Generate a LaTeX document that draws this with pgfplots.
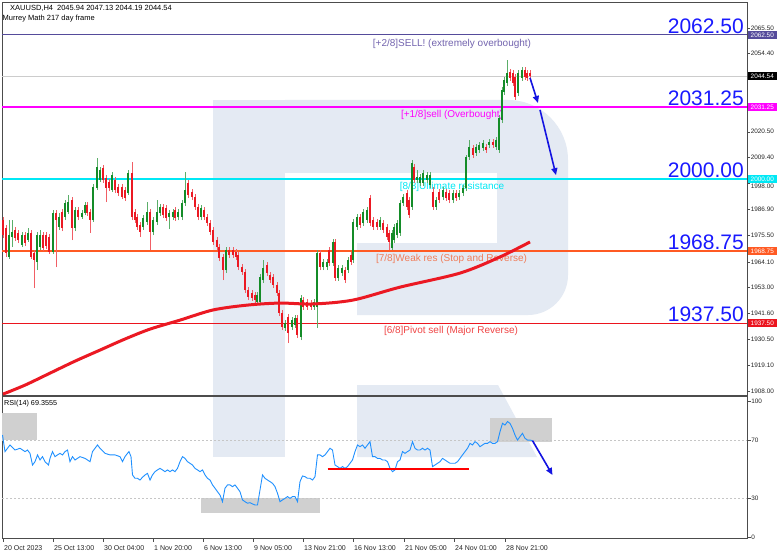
\documentclass[border=0pt]{standalone}
\usepackage{pgfplots}
\pgfplotsset{compat=1.18}
\usepackage{pgfplotstable}
\usepackage{fontspec}
\setmainfont{Liberation Sans}
\usetikzlibrary{arrows.meta}
\newcommand{\fs}[1]{\fontsize{#1}{#1}\selectfont}
\definecolor{cup}{RGB}{20,140,40}
\definecolor{cdn}{RGB}{235,25,35}
\definecolor{wm}{RGB}{228,234,243}
\definecolor{lvlA}{RGB}{85,75,155}
\definecolor{lvlAt}{RGB}{115,100,175}
\definecolor{lvlB}{RGB}{255,0,255}
\definecolor{lvlC}{RGB}{0,232,245}
\definecolor{lvlD}{RGB}{255,90,35}
\definecolor{lvlDt}{RGB}{240,125,90}
\definecolor{lvlE}{RGB}{235,20,30}
\definecolor{lvlEt}{RGB}{240,70,70}
\definecolor{arrowblue}{RGB}{20,20,225}
\definecolor{bignum}{RGB}{25,25,255}
\definecolor{rsiblue}{RGB}{30,144,255}
\definecolor{boxgray}{RGB}{208,208,208}

\pgfplotstableread{
x o h l c
9 1966.2 1982.2 1965.3 1975.7
12 1974.8 1982.2 1970.5 1977.0
22 1971.4 1977.0 1970.5 1975.7
28 1973.5 1978.8 1972.7 1976.6
37 1964.0 1977.0 1960.5 1975.7
40 1970.5 1977.9 1969.2 1975.7
53 1968.3 1986.6 1967.5 1985.3
59 1979.2 1985.3 1977.9 1983.5
65 1983.5 1990.9 1982.2 1989.6
68 1985.7 1993.1 1984.8 1990.0
75 1978.8 1987.9 1977.4 1986.6
82 1983.5 1986.6 1982.7 1985.3
85 1985.3 1990.0 1984.4 1988.7
93 1982.2 1997.8 1981.4 1996.5
97 1996.1 2009.1 1995.2 2005.2
100 1999.6 2005.2 1998.7 2003.9
112 1995.2 2003.1 1994.4 2001.8
128 1993.9 2003.9 1993.1 2002.6
143 1979.2 1984.4 1977.9 1983.1
147 1981.4 1990.0 1980.1 1985.7
153 1977.0 1983.5 1975.7 1982.2
157 1981.4 1990.9 1980.1 1985.7
160 1985.3 1989.2 1984.0 1987.9
169 1983.5 1986.6 1978.3 1985.3
173 1983.5 1987.0 1982.2 1985.7
178 1983.5 1987.0 1982.2 1985.7
182 1983.5 1990.9 1982.2 1989.6
185 1989.6 2003.1 1988.3 1995.2
201 1983.5 1988.7 1982.2 1987.4
226 1960.5 1970.5 1959.2 1969.2
257 1946.6 1951.0 1945.3 1949.7
260 1946.6 1958.8 1945.3 1957.5
263 1956.2 1964.9 1954.9 1961.4
285 1935.4 1938.8 1934.1 1937.5
292 1935.8 1940.1 1934.5 1938.8
295 1936.7 1941.0 1935.4 1939.7
301 1931.4 1949.7 1930.1 1948.4
314 1944.5 1947.9 1943.2 1946.6
317 1944.5 1969.2 1935.4 1967.9
323 1961.8 1965.3 1960.5 1964.0
327 1961.8 1965.3 1960.5 1964.0
333 1963.6 1974.0 1962.3 1972.7
338 1957.0 1962.7 1955.8 1961.4
342 1959.2 1962.7 1957.9 1961.4
348 1960.5 1966.2 1959.2 1964.9
353 1964.9 1982.7 1963.6 1981.4
357 1979.2 1984.8 1977.9 1983.5
363 1980.9 1987.0 1979.6 1985.7
367 1982.2 1987.9 1980.9 1986.6
380 1979.2 1983.5 1977.9 1982.2
392 1970.1 1977.9 1969.2 1976.6
394 1973.5 1980.5 1972.2 1979.2
397 1975.7 1982.2 1974.4 1980.9
400 1976.6 1990.9 1975.3 1989.6
403 1989.6 1993.5 1988.3 1992.2
412 1987.9 2008.3 1986.6 2007.0
417 1999.6 2003.9 1998.3 2000.9
420 1998.3 2002.2 1997.0 2000.9
423 1998.3 2003.9 1997.0 2002.6
427 1999.6 2003.1 1998.3 2001.8
430 1997.4 2003.1 1996.1 2001.8
436 1987.9 1992.2 1986.6 1990.9
443 1992.2 1996.5 1990.9 1995.2
453 1990.9 1995.2 1989.6 1993.9
459 1992.2 1995.2 1990.9 1993.9
463 1993.9 1997.4 1992.6 1996.1
466 1996.1 2010.4 1994.8 2009.6
469 2009.6 2016.9 2008.3 2013.9
476 2011.3 2015.2 2010.0 2013.9
479 2012.6 2016.1 2011.3 2014.8
483 2013.5 2016.9 2012.2 2015.6
489 2014.8 2017.4 2013.5 2016.1
496 2013.9 2018.2 2012.6 2016.9
499 2012.6 2027.8 2011.3 2026.5
502 2025.6 2039.9 2024.3 2038.6
504 2037.8 2044.3 2036.5 2043.0
507 2041.7 2051.7 2040.4 2046.0
518 2037.3 2047.3 2036.0 2046.0
522 2043.9 2048.6 2042.6 2047.3
}\up

\pgfplotstableread{
x o h l c
3 1982.2 1983.5 1974.4 1975.7
6 1978.8 1980.1 1966.2 1967.9
15 1977.9 1979.2 1973.1 1974.4
18 1976.6 1977.9 1972.2 1973.5
25 1975.7 1977.0 1970.9 1972.2
31 1976.6 1977.9 1965.3 1966.2
34 1967.9 1969.2 1952.7 1964.9
43 1975.7 1977.0 1968.8 1970.1
46 1975.7 1977.0 1969.6 1970.9
49 1974.8 1976.1 1967.5 1968.3
56 1985.3 1986.6 1961.8 1982.2
62 1985.7 1987.0 1977.4 1978.8
72 1990.9 1992.2 1973.5 1978.8
78 1986.6 1987.9 1982.2 1983.5
87 1988.7 1990.0 1984.0 1985.3
90 1985.7 1987.0 1976.6 1982.2
103 2004.8 2006.1 1998.3 1999.6
106 2000.5 2001.8 1990.0 1996.1
109 1998.7 2000.0 1994.8 1996.1
115 1999.6 2000.9 1993.9 1995.2
118 1996.5 1997.8 1992.6 1993.9
122 1996.5 1997.8 1991.3 1992.2
125 1995.2 1996.5 1990.5 1991.8
132 2002.6 2007.4 1982.2 1983.5
135 1985.7 1987.0 1980.9 1982.2
137 1983.5 1984.8 1977.9 1979.2
140 1980.1 1981.4 1974.8 1977.0
150 1985.7 1987.0 1969.2 1977.0
163 1987.9 1989.2 1983.1 1984.4
166 1987.4 1988.7 1981.8 1983.1
175 1986.6 1987.9 1981.8 1983.1
188 1998.3 1999.6 1991.8 1993.1
192 1994.4 1995.7 1990.9 1992.2
195 1992.2 1993.5 1986.6 1987.9
198 1987.9 1989.2 1982.2 1983.5
204 1986.6 1987.9 1982.2 1983.5
207 1983.5 1984.8 1979.6 1980.9
210 1980.9 1982.2 1975.7 1977.0
213 1977.9 1979.2 1971.4 1972.7
217 1973.5 1974.8 1969.2 1970.5
219 1970.5 1971.8 1964.4 1965.7
223 1966.2 1967.5 1956.2 1960.5
229 1969.2 1970.5 1965.7 1967.0
233 1969.2 1970.5 1965.7 1967.0
236 1968.3 1969.6 1964.9 1966.2
238 1967.0 1968.3 1960.5 1961.8
242 1961.8 1963.1 1958.4 1959.7
245 1959.7 1961.0 1950.5 1951.8
248 1951.8 1953.1 1947.5 1948.8
252 1950.5 1951.8 1947.1 1948.4
255 1949.7 1951.0 1946.2 1947.5
267 1962.7 1964.0 1957.9 1959.2
270 1958.4 1959.7 1954.9 1956.2
273 1957.5 1958.8 1952.7 1954.0
277 1954.0 1955.3 1949.2 1950.5
279 1950.5 1951.8 1940.6 1941.9
282 1941.9 1943.2 1934.5 1935.8
288 1940.1 1941.4 1928.8 1933.2
297 1939.7 1941.0 1931.0 1932.3
303 1947.5 1948.8 1943.2 1944.5
307 1946.6 1947.9 1943.2 1944.5
311 1946.2 1947.5 1943.2 1944.5
320 1967.9 1969.2 1960.5 1961.8
329 1969.2 1970.5 1962.3 1963.6
335 1972.7 1974.0 1955.8 1957.0
345 1960.5 1961.8 1954.9 1956.2
351 1967.0 1968.3 1962.7 1964.0
360 1983.5 1984.8 1978.8 1980.1
370 1991.8 1993.1 1979.6 1980.9
373 1982.2 1983.5 1977.9 1979.2
377 1981.4 1982.7 1977.9 1979.2
383 1980.9 1982.2 1976.6 1977.9
387 1979.2 1980.5 1973.5 1974.8
389 1976.6 1977.9 1969.2 1972.7
407 1993.9 1995.2 1986.6 1987.9
409 1990.9 1992.2 1983.1 1984.4
414 2005.2 2006.5 1998.3 1999.6
433 1994.4 1996.5 1986.6 1987.9
439 1994.4 1995.7 1989.6 1990.9
446 1994.4 1995.7 1990.5 1991.8
449 1993.9 1995.2 1989.6 1990.9
456 1993.9 1995.2 1990.5 1991.8
473 2013.5 2014.8 2009.1 2010.4
486 2013.9 2015.2 2011.3 2012.6
493 2016.1 2017.4 2013.5 2014.8
510 2046.5 2047.8 2042.6 2043.9
513 2046.0 2047.3 2040.4 2041.7
515 2044.3 2045.6 2034.3 2035.6
525 2047.3 2048.6 2043.0 2044.3
527 2046.0 2047.3 2042.6 2043.9
530 2046.0 2047.3 2043.0 2044.5
}\down

\tikzset{tag/.style={anchor=west, text=white, font=\fs{6.4}, inner xsep=3.2pt, inner ysep=0pt, minimum height=8pt, xshift=0.3pt}}

\begin{document}
\begin{tikzpicture}
\useasboundingbox (0,0) rectangle (782pt,558pt);
\fill[white] (0,0) rectangle (782pt,558pt);
% watermark logo
\begin{scope}[x=1pt,y=1pt]
\fill[wm] (213,101) rectangle (285,458);
\fill[wm] (285,458) -- (508,458) arc[start angle=90,end angle=0,radius=60] -- (568,283) arc[start angle=0,end angle=-90,radius=40] -- (357,243) -- (357,315) -- (497,315) -- (497,385) -- (285,385) -- cycle;
\fill[wm] (357,173) -- (498,173) -- (537,101) -- (357,101) -- cycle;
\end{scope}

% ---------------- main price panel ----------------
\begin{axis}[
  at={(2pt,162.5pt)}, anchor=south west,
  scale only axis, width=745pt, height=392.8pt,
  xmin=2, xmax=747, ymin=1906.1, ymax=2076.5,
  clip=false,
  axis line style={black!70, line width=0.6pt},
  xtick=\empty,
  ytick={1908,1919.1,1930.5,1941.6,1953,1964.1,1975.5,1986.9,2009.4,2020.5,2054.4,2065.5},
  yticklabels={1908.00,1919.10,1930.50,1941.60,1953.00,1964.10,1975.50,1986.90,2009.40,2020.50,2054.40,2065.50},
  extra y ticks={1998},
  extra y tick labels={1998.00},
  extra y tick style={yticklabel style={yshift=-2.5pt}},
  ytick pos=right, yticklabel pos=right,
  tick align=outside, major tick length=3pt,
  tick style={black!70, line width=0.5pt},
  yticklabel style={font=\fs{6.4}, inner sep=0.6pt, text=black!85},
]
% Murrey levels
\addplot[lvlA, line width=1pt] coordinates {(2,2062.5) (747,2062.5)};
\addplot[gray!40, line width=0.8pt] coordinates {(2,2044.54) (747,2044.54)};
\addplot[lvlB, line width=1.5pt] coordinates {(2,2031.25) (747,2031.25)};
\addplot[lvlC, line width=1.5pt] coordinates {(2,2000) (747,2000)};
\addplot[lvlD, line width=1.5pt] coordinates {(2,1968.75) (747,1968.75)};
\addplot[lvlE, line width=1.2pt] coordinates {(2,1937.5) (747,1937.5)};
% level descriptions
\node[text=lvlAt, font=\fs{10}, inner sep=0pt] at (axis cs:452,2058.8) {[+2/8]SELL! (extremely overbought)};
\node[text=lvlB, font=\fs{10}, inner sep=0pt] at (axis cs:452,2027.8) {[+1/8]sell (Overbought)};
\node[text=lvlC, font=\fs{10}, inner sep=0pt] at (axis cs:452,1996.5) {[8/8]Ultimate resistance};
\node[text=lvlDt, font=\fs{10}, inner sep=0pt] at (axis cs:451.5,1965.5) {[7/8]Weak res (Stop and Reverse)};
\node[text=lvlEt, font=\fs{10}, inner sep=0pt] at (axis cs:451,1934.3) {[6/8]Pivot sell (Major Reverse)};
% candles: wicks
\addplot[cup!70, line width=0.6pt, no markers, quiver={u=0,v=\thisrow{h}-\thisrow{l}}] table[x=x,y=l]{\up};
\addplot[cdn!70, line width=0.6pt, no markers, quiver={u=0,v=\thisrow{h}-\thisrow{l}}] table[x=x,y=l]{\down};
% candles: bodies
\addplot[cup, line width=2pt, no markers, quiver={u=0,v=\thisrow{c}-\thisrow{o}}] table[x=x,y=o]{\up};
\addplot[cdn, line width=2pt, no markers, quiver={u=0,v=\thisrow{c}-\thisrow{o}}] table[x=x,y=o]{\down};
% 217 moving average
\addplot[cdn, line width=3pt, smooth] coordinates {
(3,1906.7) (25,1910.6) (50,1915.8) (75,1921.0) (100,1925.8) (125,1930.6)
(150,1934.9) (180,1938.8) (213,1943.2) (247,1945.3) (280,1946.2) (313,1945.8)
(353,1947.5) (400,1953.1) (460,1959.2) (500,1966.2) (530,1972.7)};
% big level numbers
\node[anchor=base east, text=bignum, font=\fs{21}, inner sep=0pt] at (axis cs:744,2063.1) {2062.50};
\node[anchor=base east, text=bignum, font=\fs{21}, inner sep=0pt] at (axis cs:744,2031.85) {2031.25};
\node[anchor=base east, text=bignum, font=\fs{21}, inner sep=0pt] at (axis cs:744,2000.6) {2000.00};
\node[anchor=base east, text=bignum, font=\fs{21}, inner sep=0pt] at (axis cs:744,1969.35) {1968.75};
\node[anchor=base east, text=bignum, font=\fs{21}, inner sep=0pt] at (axis cs:744,1938.1) {1937.50};
% forecast arrows
\draw[arrowblue, line width=1.6pt, -{Triangle[length=7pt,width=6pt]}] (axis cs:530,2043.9) -- (axis cs:538,2033.0);
\draw[arrowblue, line width=1.6pt, -{Triangle[length=7pt,width=6pt]}] (axis cs:540,2030.0) -- (axis cs:556,2001.7);
% price tag anchors
\coordinate (tA) at (axis cs:747,2062.5);
\coordinate (tB) at (axis cs:747,2044.54);
\coordinate (tC) at (axis cs:747,2031.25);
\coordinate (tD) at (axis cs:747,2000);
\coordinate (tE) at (axis cs:747,1968.75);
\coordinate (tF) at (axis cs:747,1937.5);
\end{axis}

% price tags on the scale
\node[tag, fill=lvlA] at (tA) {2062.50};
\node[tag, fill=black] at (tB) {2044.54};
\node[tag, fill=lvlB] at (tC) {2031.25};
\node[tag, fill=lvlC] at (tD) {2000.00};
\node[tag, fill=lvlD] at (tE) {1968.75};
\node[tag, fill=lvlE] at (tF) {1937.50};

% header
\fill[black!80] (3.5,551.8) -- (9.5,551.8) -- (6.5,548) -- cycle;
\node[anchor=west, font=\fs{7.5}, inner sep=0pt] at (10pt,550pt) {XAUUSD,H4\hspace{4pt}2045.94 2047.13 2044.19 2044.54};
\node[anchor=west, font=\fs{7.5}, inner sep=0pt] at (2.5pt,539.5pt) {Murrey Math 217 day frame};

% ---------------- RSI panel ----------------
\begin{axis}[
  at={(2pt,20pt)}, anchor=south west,
  scale only axis, width=745pt, height=141.5pt,
  xmin=2, xmax=747, ymin=2.5, ymax=100.6,
  clip=false,
  axis line style={black!70, line width=0.6pt},
  xtick={3,53,103,153,203,253,303,353,404,454,505},
  xticklabels={20 Oct 2023,25 Oct 13:00,30 Oct 04:00,1 Nov 20:00,6 Nov 13:00,9 Nov 05:00,13 Nov 21:00,16 Nov 13:00,21 Nov 05:00,24 Nov 01:00,28 Nov 21:00},
  xtick pos=left,
  xticklabel style={anchor=north west, font=\fs{7}, inner sep=1pt, yshift=-3pt, text=black!85},
  ytick={3.2,30,70,97.5}, yticklabels={0,30,70,100},
  ytick pos=right, yticklabel pos=right,
  tick align=outside, major tick length=3.5pt,
  tick style={black!70, line width=0.5pt},
  yticklabel style={font=\fs{6.4}, inner sep=0.6pt, text=black!85},
]
\fill[boxgray] (axis cs:2,70.4) rectangle (axis cs:36.5,88.9);
\fill[boxgray] (axis cs:201,19.6) rectangle (axis cs:320,30.0);
\fill[boxgray] (axis cs:490,69.1) rectangle (axis cs:552,85.6);
\addplot[gray!45, line width=0.5pt, dash pattern=on 2pt off 2pt] coordinates {(2,70) (747,70)};
\addplot[gray!45, line width=0.5pt, dash pattern=on 2pt off 2pt] coordinates {(2,30) (747,30)};
\addplot[rsiblue, line width=0.9pt] coordinates {
(2.5,73.9) (5,62.4) (10,67.0) (15,63.5) (20,64.7) (25,62.4) (27.5,63.5) (30,61.2)
(32.5,53.1) (35,55.4) (37.5,60.1) (40,56.6) (42.5,58.9) (45,55.4) (48.5,53.1) (50,57.7)
(52.5,62.4) (55,58.9) (57.5,60.1) (60,61.2) (62.5,60.1) (65,62.4) (67.5,63.5) (70,55.4)
(72.5,58.9) (75,56.6) (80,58.9) (85,57.7) (87.5,56.6) (90,55.4) (92.5,62.4) (97.5,67.0)
(100,64.7) (105,61.2) (110,60.1) (115,60.1) (120,58.9) (122.5,55.4) (125,58.9) (127.5,61.2)
(129,62.4) (131,58.9) (132.5,46.2) (135,43.9) (137.5,43.9) (140,42.7) (142.5,44.6) (145,46.2)
(147.5,47.3) (150,42.7) (152.5,46.2) (155,48.5) (157.5,49.7) (160,50.8) (162.5,49.7) (165,48.5)
(167.5,49.7) (170,48.5) (172.5,49.7) (175,48.5) (177.5,50.8) (180,55.4) (182.5,58.9) (185,57.7)
(187.5,55.4) (190,54.3) (192.5,53.1) (195,50.8) (197.5,49.7) (200,48.5) (202.5,49.7) (205,46.2)
(207.5,43.9) (210,42.7) (212.5,39.3) (215,37.0) (217.5,34.6) (220,32.3) (222.5,27.7) (225,37.0)
(227.5,39.3) (230,39.3) (232.5,38.1) (235,39.3) (237.5,37.0) (240,34.6) (242.5,28.9) (245,27.7)
(247.5,26.6) (250,27.0) (252.5,26.1) (255,25.4) (257.5,25.4) (260,35.8) (262.5,46.2) (265,43.9)
(267.5,42.7) (270,41.6) (272.5,40.4) (275,38.1) (277.5,33.5) (280,27.7) (282.5,28.9) (285,30.0)
(287.5,31.2) (290,30.0) (292.5,31.2) (295,31.2) (297.5,27.7) (300,41.6) (302.5,45.5) (305,45.0)
(307.5,43.9) (310,43.9) (312.5,42.7) (315,45.0) (317.5,60.1) (320,60.1) (322.5,58.9) (325,60.1)
(327.5,62.4) (330,64.7) (332.5,63.5) (335,53.1) (337.5,52.0) (340,50.8) (342.5,52.0) (345,50.8)
(347.5,52.0) (350,54.3) (352.5,56.6) (355,62.4) (357.5,67.0) (360,65.8) (362.5,67.0) (365,64.7)
(367.5,67.0) (370,69.3) (372.5,58.9) (375,58.9) (377.5,57.7) (380,57.7) (382.5,56.6) (385,56.6)
(387.5,55.4) (390,50.8) (392.5,48.5) (395,49.7) (397.5,55.4) (400,56.6) (402.5,62.4) (405,61.2)
(407.5,62.4) (410,63.5) (412.5,69.3) (415,64.7) (417.5,63.5) (420,63.5) (422.5,64.7) (425,63.5)
(427.5,64.7) (430,63.5) (432.5,52.0) (435,53.1) (437.5,54.3) (440,55.4) (442.5,57.7) (445,56.6)
(447.5,55.4) (450,54.3) (452.5,54.3) (455,54.3) (457.5,55.4) (460,57.7) (462.5,60.1) (465,62.4)
(467.5,64.7) (470,68.1) (472.5,67.0) (475,69.3) (477.5,68.1) (480,65.8) (482.5,67.0) (485,68.1)
(487.5,68.1) (490,69.3) (492.5,68.1) (495,68.1) (497.5,69.3) (500,76.2) (502.5,82.0) (505,80.8)
(507.5,83.2) (510,82.0) (512.5,78.5) (515,73.9) (517.5,70.4) (520,72.8) (522.5,75.1) (525,71.6)
(527.5,70.4) (530,70.4) (532.5,70.0)};
\addplot[red, line width=1.8pt] coordinates {(327.5,50.3) (469,50.3)};
\draw[arrowblue, line width=1.6pt, -{Triangle[length=7pt,width=6pt]}] (axis cs:532.5,70) -- (axis cs:552.5,46.2);
\node[anchor=west, font=\fs{7.2}, inner sep=0pt] at (axis cs:4,95.4) {RSI(14) 69.3555};
\end{axis}
\end{tikzpicture}
\end{document}
